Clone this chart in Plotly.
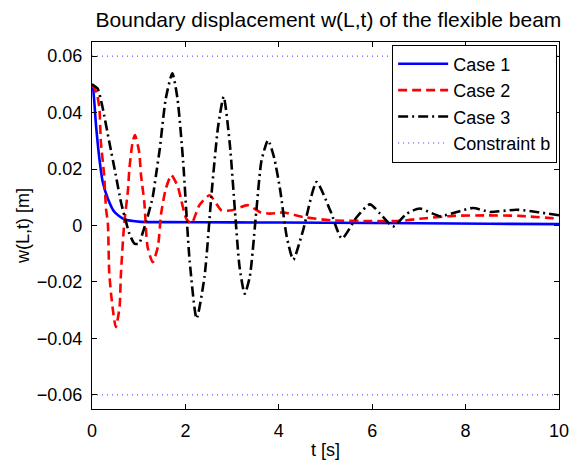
import plotly.graph_objects as go

# ---- data ----
t_case1 = [0, 0.015, 0.086, 0.158, 0.23, 0.34, 0.48, 0.69, 1.05, 1.6, 3.0, 5.0, 7.0, 8.5, 10.0]
w_case1 = [0.05, 0.0497, 0.0355, 0.0237, 0.0154, 0.0095, 0.0048, 0.0022, 0.0013, 0.0012, 0.0011, 0.0010, 0.0008, 0.0006, 0.0005]

t_case2 = [0, 0.1, 0.158, 0.19, 0.26, 0.3, 0.34, 0.37, 0.44, 0.51, 0.59, 0.62, 0.69, 0.77, 0.8, 0.87,
           0.92, 1.01, 1.05, 1.12, 1.19, 1.3, 1.41, 1.48, 1.58, 1.7, 1.84, 1.91, 2.02, 2.13, 2.3, 2.52,
           2.77, 3.0, 3.34, 3.59, 3.8, 4.1, 4.52, 5.16, 5.95, 6.6, 7.02, 7.74, 8.45, 9.16, 10.0]
w_case2 = [0.05, 0.047, 0.0415, 0.0296, 0.0178, 0.006, 0.0007, -0.017, -0.029, -0.036, -0.029, -0.017, 0.0007, 0.0125, 0.020, 0.0296,
           0.032, 0.026, 0.0178, 0.0083, -0.0076, -0.013, -0.0076, 0.0042, 0.013, 0.0178, 0.0137, 0.009, 0.0024, 0.0007, 0.0072, 0.0107,
           0.0054, 0.0054, 0.0072, 0.0048, 0.0042, 0.0046, 0.003, 0.0018, 0.0016, 0.0016, 0.0024, 0.0034, 0.0036, 0.0034, 0.0024]

t_case3 = [0, 0.12, 0.23, 0.37, 0.51, 0.62, 0.73, 0.8, 0.91, 1.01, 1.08, 1.19, 1.3, 1.37, 1.45, 1.58, 1.72,
           1.83, 1.95, 2.09, 2.24, 2.41, 2.56, 2.7, 2.82, 2.95, 3.06, 3.16, 3.27, 3.38, 3.52, 3.63, 3.77,
           3.9, 4.03, 4.17, 4.31, 4.52, 4.81, 5.1, 5.35, 5.67, 5.95, 6.17, 6.45, 6.74, 7.02, 7.45, 7.81,
           8.16, 8.52, 9.09, 9.52, 10.0]
w_case3 = [0.05, 0.0485, 0.0415, 0.0296, 0.0178, 0.0083, 0.0012, -0.0029, -0.0064, -0.0064, -0.0029, 0.003, 0.0101, 0.0178, 0.027, 0.045, 0.0539,
           0.045, 0.023, -0.0123, -0.033, -0.018, 0.0113, 0.035, 0.0456, 0.029, 0.0054, -0.0147, -0.0242, -0.018, 0.0054, 0.023, 0.0302,
           0.024, 0.0125, -0.004, -0.0121, -0.0017, 0.0154, 0.0054, -0.0046, 0.003, 0.0075, 0.0042, -0.0003, 0.0042, 0.006, 0.0033, 0.0048,
           0.0062, 0.0048, 0.0056, 0.0048, 0.0036]

b_constraint = 0.06
t_limits = [0, 10]

x_ticks = [0, 2, 4, 6, 8, 10]
y_ticks = [-0.06, -0.04, -0.02, 0, 0.02, 0.04, 0.06]

FONT = "Liberation Sans, Arial, Helvetica, sans-serif"

fig = go.Figure()
fig.add_trace(go.Scatter(x=t_case1, y=w_case1, mode="lines", name="Case 1",
                         line=dict(color="#0000ff", width=2.6, shape="spline", smoothing=0.6)))
fig.add_trace(go.Scatter(x=t_case2, y=w_case2, mode="lines", name="Case 2",
                         line=dict(color="#ff0000", width=2.6, dash="9px,5px", shape="spline", smoothing=0.6)))
fig.add_trace(go.Scatter(x=t_case3, y=w_case3, mode="lines", name="Case 3",
                         line=dict(color="#000000", width=2.6, dash="10px,4px,2px,4px", shape="spline", smoothing=0.6)))
fig.add_trace(go.Scatter(x=[t_limits[0], t_limits[1], None, t_limits[0], t_limits[1]],
                         y=[b_constraint, b_constraint, None, -b_constraint, -b_constraint],
                         mode="lines", name="Constraint b",
                         line=dict(color="#3333ff", width=1, dash="1px,4px")))

axis_common = dict(showgrid=False, zeroline=False, showline=True, linecolor="black", linewidth=1.3,
                   mirror="ticks", ticks="inside", ticklen=5, tickcolor="black", automargin=False,
                   ticklabelstandoff=5,
                   tickfont=dict(family=FONT, size=18, color="black"))

fig.update_layout(
    width=577, height=460,
    margin=dict(l=92, r=18, t=42, b=51),
    paper_bgcolor="white", plot_bgcolor="white",
    title=dict(text="Boundary displacement w(L,t) of the flexible beam",
               font=dict(family=FONT, size=21, color="black"),
               xref="container", x=0.5693, xanchor="center", y=0.958, yanchor="middle", automargin=False),
    xaxis=dict(range=[0, 10], tickvals=x_ticks,
               title=dict(text="t [s]", font=dict(family=FONT, size=18, color="black"), standoff=5),
               **axis_common),
    yaxis=dict(range=[-0.065, 0.065], tickvals=y_ticks, tickformat=".2~f",
               title=dict(text="w(L,t) [m]", font=dict(family=FONT, size=18, color="black"), standoff=2),
               **axis_common),
    legend=dict(x=0.996, xanchor="right", y=0.993, yanchor="top",
                bgcolor="white", bordercolor="black", borderwidth=1,
                font=dict(family=FONT, size=18, color="black"),
                tracegroupgap=0, itemwidth=50),
    showlegend=True,
)

fig.write_html("out.html", config={"displayModeBar": False},
               post_script="document.body.style.margin='0';document.body.style.overflow='hidden';")
